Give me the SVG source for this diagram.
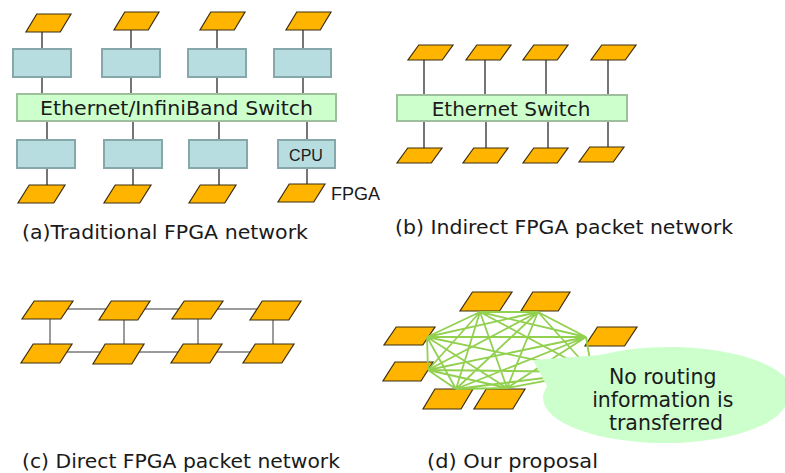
<svg xmlns="http://www.w3.org/2000/svg" xmlns:xlink="http://www.w3.org/1999/xlink" width="785" height="473" viewBox="0 0 785 473">
  <style>
    .fpga { fill: #FFB400; stroke: #3B2F10; stroke-width: 1.2; vector-effect: non-scaling-stroke; }
    .host { fill: #B7DDE0; stroke: #86A8AA; stroke-width: 2; }
    .switch { fill: #CCFFCC; stroke: #9DBF9D; stroke-width: 2; }
    .wire { stroke: #1A1A1A; stroke-width: 1.2; fill: none; }
    .ring { stroke: #7A7A7A; stroke-width: 1.5; fill: none; }
    .mesh { stroke: #92D050; stroke-width: 1.8; fill: none; }
    .label { font-family: "DejaVu Sans", Verdana, sans-serif; fill: #1A1A1A; }
    .small { font-family: "Liberation Sans", Arial, sans-serif; fill: #1A1A1A; }
  </style>
  <defs>
    <!-- FPGA chip drawn as a slanted parallelogram -->
    <symbol id="fpga" viewBox="0 0 46 18" preserveAspectRatio="none" overflow="visible">
      <polygon class="fpga" points="11,0 46,0 35,18 0,18"/>
    </symbol>
  </defs>

  <!-- (a) Traditional FPGA network -->
  <g id="connectors-a">
    <line class="wire" x1="42" y1="31" x2="42" y2="94"/>
    <line class="wire" x1="131" y1="30" x2="131" y2="94"/>
    <line class="wire" x1="217" y1="30" x2="217" y2="94"/>
    <line class="wire" x1="303" y1="30" x2="303" y2="94"/>
    <line class="wire" x1="47" y1="121" x2="47" y2="185"/>
    <line class="wire" x1="133" y1="121" x2="133" y2="185"/>
    <line class="wire" x1="219" y1="121" x2="219" y2="185"/>
    <line class="wire" x1="307" y1="121" x2="307" y2="185"/>
  </g>
  <g id="a-fpga-top-1"><use xlink:href="#fpga" x="26" y="14" width="45" height="18"/></g>
  <g id="a-fpga-top-2"><use xlink:href="#fpga" x="114" y="12" width="45" height="18"/></g>
  <g id="a-fpga-top-3"><use xlink:href="#fpga" x="200" y="12" width="45" height="18"/></g>
  <g id="a-fpga-top-4"><use xlink:href="#fpga" x="286" y="12" width="45" height="18"/></g>
  <g id="a-host-top-1"><rect class="host" x="13" y="49" width="58" height="28"/></g>
  <g id="a-host-top-2"><rect class="host" x="102" y="49" width="58" height="28"/></g>
  <g id="a-host-top-3"><rect class="host" x="188" y="49" width="58" height="28"/></g>
  <g id="a-host-top-4"><rect class="host" x="274" y="49" width="57" height="28"/></g>
  <g id="a-switch">
    <rect class="switch" x="17" y="94" width="319" height="27"/>
    <text class="label" x="40" y="115" font-size="20" textLength="273" lengthAdjust="spacingAndGlyphs">Ethernet/InfiniBand Switch</text>
  </g>
  <g id="a-host-bottom-1"><rect class="host" x="17" y="140" width="58" height="28"/></g>
  <g id="a-host-bottom-2"><rect class="host" x="104" y="140" width="58" height="28"/></g>
  <g id="a-host-bottom-3"><rect class="host" x="189" y="140" width="58" height="28"/></g>
  <g id="a-cpu">
    <rect class="host" x="278" y="140" width="57" height="28"/>
    <text class="small" x="306" y="161" font-size="16" text-anchor="middle">CPU</text>
  </g>
  <g id="a-fpga-bottom-1"><use xlink:href="#fpga" x="18" y="185" width="47" height="18"/></g>
  <g id="a-fpga-bottom-2"><use xlink:href="#fpga" x="104" y="185" width="47" height="18"/></g>
  <g id="a-fpga-bottom-3"><use xlink:href="#fpga" x="189" y="185" width="47" height="18"/></g>
  <g id="a-fpga-bottom-4">
    <use xlink:href="#fpga" x="278" y="184" width="47" height="18"/>
    <text class="small" x="331" y="200" font-size="18">FPGA</text>
  </g>
  <text class="label" x="22" y="239" font-size="20" textLength="286" lengthAdjust="spacingAndGlyphs">(a)Traditional FPGA network</text>

  <!-- (b) Indirect FPGA packet network -->
  <g id="connectors-b">
    <line class="wire" x1="424" y1="59" x2="424" y2="95"/>
    <line class="wire" x1="485" y1="59" x2="485" y2="95"/>
    <line class="wire" x1="546" y1="59" x2="546" y2="95"/>
    <line class="wire" x1="608" y1="59" x2="608" y2="95"/>
    <line class="wire" x1="424" y1="121" x2="424" y2="148"/>
    <line class="wire" x1="486" y1="121" x2="486" y2="148"/>
    <line class="wire" x1="548" y1="121" x2="548" y2="148"/>
    <line class="wire" x1="608" y1="121" x2="608" y2="148"/>
  </g>
  <g id="b-fpga-top-1"><use xlink:href="#fpga" x="408" y="45" width="45" height="15"/></g>
  <g id="b-fpga-top-2"><use xlink:href="#fpga" x="466" y="45" width="45" height="15"/></g>
  <g id="b-fpga-top-3"><use xlink:href="#fpga" x="523" y="45" width="45" height="15"/></g>
  <g id="b-fpga-top-4"><use xlink:href="#fpga" x="591" y="45" width="45" height="15"/></g>
  <g id="b-switch">
    <rect class="switch" x="397" y="95" width="230" height="26"/>
    <text class="label" x="511" y="116" font-size="20" text-anchor="middle">Ethernet Switch</text>
  </g>
  <g id="b-fpga-bottom-1"><use xlink:href="#fpga" x="397" y="148" width="45" height="15"/></g>
  <g id="b-fpga-bottom-2"><use xlink:href="#fpga" x="463" y="148" width="45" height="15"/></g>
  <g id="b-fpga-bottom-3"><use xlink:href="#fpga" x="523" y="148" width="45" height="15"/></g>
  <g id="b-fpga-bottom-4"><use xlink:href="#fpga" x="579" y="147" width="45" height="15"/></g>
  <text class="label" x="395" y="234" font-size="20" textLength="338" lengthAdjust="spacingAndGlyphs">(b) Indirect FPGA packet network</text>

  <!-- (c) Direct FPGA packet network: two rows joined as a ladder -->
  <g id="connectors-c">
    <line class="ring" x1="55" y1="309" x2="285" y2="309"/>
    <line class="ring" x1="50" y1="352" x2="275" y2="352"/>
    <line class="ring" x1="50" y1="319" x2="50" y2="344"/>
    <line class="ring" x1="124" y1="319" x2="124" y2="344"/>
    <line class="ring" x1="198" y1="319" x2="198" y2="344"/>
    <line class="ring" x1="273" y1="319" x2="273" y2="344"/>
  </g>
  <g id="c-fpga-top-1"><use xlink:href="#fpga" x="22" y="301" width="51" height="18"/></g>
  <g id="c-fpga-top-2"><use xlink:href="#fpga" x="99" y="301" width="51" height="19"/></g>
  <g id="c-fpga-top-3"><use xlink:href="#fpga" x="172" y="301" width="51" height="18"/></g>
  <g id="c-fpga-top-4"><use xlink:href="#fpga" x="250" y="301" width="51" height="19"/></g>
  <g id="c-fpga-bottom-1"><use xlink:href="#fpga" x="21" y="344" width="51" height="19"/></g>
  <g id="c-fpga-bottom-2"><use xlink:href="#fpga" x="93" y="344" width="51" height="20"/></g>
  <g id="c-fpga-bottom-3"><use xlink:href="#fpga" x="171" y="344" width="51" height="19"/></g>
  <g id="c-fpga-bottom-4"><use xlink:href="#fpga" x="243" y="344" width="51" height="19"/></g>
  <text class="label" x="22" y="468" font-size="20" textLength="318" lengthAdjust="spacingAndGlyphs">(c) Direct FPGA packet network</text>

  <!-- (d) Our proposal: fully connected mesh -->
  <g id="d-fpga-top-1"><use xlink:href="#fpga" x="460" y="292" width="52" height="19"/></g>
  <g id="d-fpga-top-2"><use xlink:href="#fpga" x="521" y="292" width="49" height="19"/></g>
  <g id="d-fpga-left-1"><use xlink:href="#fpga" x="384" y="327" width="51" height="18"/></g>
  <g id="d-fpga-left-2"><use xlink:href="#fpga" x="383" y="362" width="50" height="19"/></g>
  <g id="d-fpga-bottom-1"><use xlink:href="#fpga" x="423" y="389" width="50" height="20"/></g>
  <g id="d-fpga-bottom-2"><use xlink:href="#fpga" x="474" y="389" width="51" height="20"/></g>
  <g id="d-fpga-right"><use xlink:href="#fpga" x="585" y="327" width="52" height="19"/></g>
  <g id="connectors-d">
    <!-- hubs: T1(480,312) T2(538,312) L1(427,337) L2(428,370) B1(456,389) B2(507,388) R(586,337) H(592,372) -->
    <path class="mesh" d="
      M480,312 L538,312 M480,312 L427,337 M480,312 L428,370 M480,312 L456,389 M480,312 L507,388 M480,312 L586,337 M480,312 L592,372
      M538,312 L427,337 M538,312 L428,370 M538,312 L456,389 M538,312 L507,388 M538,312 L586,337 M538,312 L592,372
      M427,337 L428,370 M427,337 L456,389 M427,337 L507,388 M427,337 L586,337 M427,337 L592,372
      M428,370 L456,389 M428,370 L507,388 M428,370 L586,337 M428,370 L592,372
      M456,389 L507,388 M456,389 L586,337 M456,389 L592,372
      M507,388 L586,337 M507,388 L592,372
      M586,337 L592,372"/>
  </g>
  <g id="d-callout">
    <path fill="#CCFFCC" d="M533,360 L600,355 A122,45 0 1 1 548,388 Z"/>
    <ellipse cx="665" cy="398" rx="122" ry="45" fill="#CCFFCC"/>
    <text class="label" font-size="20.5" text-anchor="middle">
      <tspan x="666" y="384">No routing</tspan>
      <tspan x="666" y="407">information is</tspan>
      <tspan x="666" y="430">transferred</tspan>
    </text>
  </g>
  <text class="label" x="427" y="468" font-size="20" textLength="171" lengthAdjust="spacingAndGlyphs">(d) Our proposal</text>
</svg>
